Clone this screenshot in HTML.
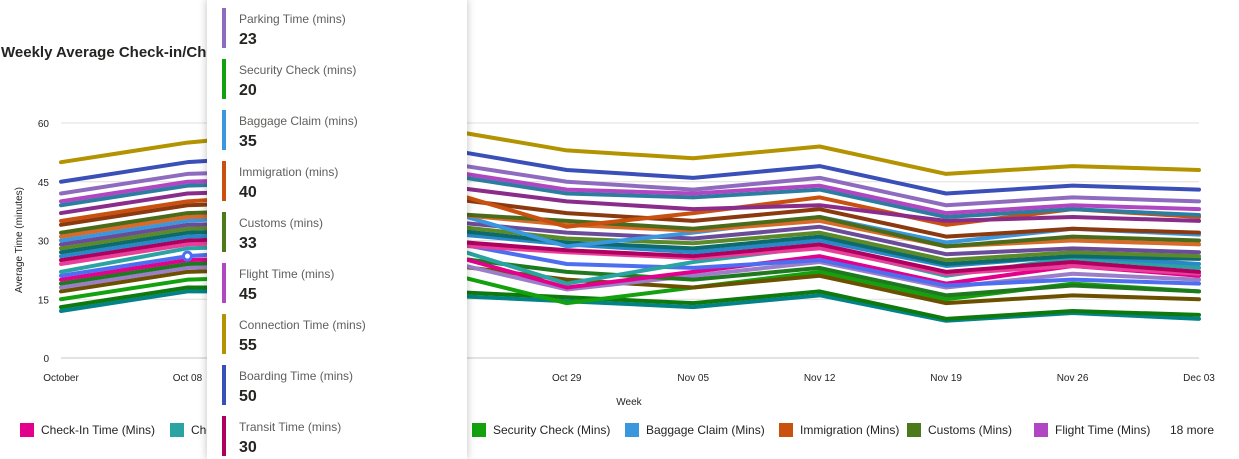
<!DOCTYPE html>
<html><head><meta charset="utf-8"><style>
body{margin:0;width:1239px;height:445px;overflow:hidden;background:#fff;font-family:"Liberation Sans",sans-serif;position:relative}
#title{position:absolute;left:1px;top:44px;font-size:15px;font-weight:bold;color:#252423}
svg{position:absolute;left:0;top:0}
#tip{position:absolute;left:207px;top:-1px;width:260px;height:460px;background:#fff;box-shadow:0 0 8px rgba(0,0,0,.25)}
.ti{position:absolute;left:15px;height:40px;padding-left:13px;border-left:4px solid}
.tl{font-size:12px;color:#605e5c;line-height:14px;margin-top:4px}
.tv{font-size:16px;font-weight:bold;color:#252423;line-height:20px;margin-top:4px}
.lg{position:absolute;top:423px;font-size:12px;color:#252423;white-space:nowrap}
.lg i{display:inline-block;width:14px;height:14px;vertical-align:-3px;margin-right:7px}
</style></head><body>
<div id="title">Weekly Average Check-in/Check-out Times</div>
<svg id="chart" width="1239" height="445"></svg>
<div class="lg" style="left:20px"><i style="background:#e3008c"></i>Check-In Time (Mins)</div>
<div class="lg" style="left:170px"><i style="background:#2aa3a3"></i>Check-Out Time (Mins)</div>
<div class="lg" style="left:472px"><i style="background:#13a10e"></i>Security Check (Mins)</div>
<div class="lg" style="left:625px"><i style="background:#3a96dd"></i>Baggage Claim (Mins)</div>
<div class="lg" style="left:779px"><i style="background:#ca5010"></i>Immigration (Mins)</div>
<div class="lg" style="left:907px"><i style="background:#4a7a1a"></i>Customs (Mins)</div>
<div class="lg" style="left:1034px"><i style="background:#b146c2"></i>Flight Time (Mins)</div>
<div class="lg" style="left:1170px">18 more</div>
<div id="tip">
<div class="ti" style="top:9px;border-color:#8e6bbf"><div class="tl">Parking Time (mins)</div><div class="tv">23</div></div>
<div class="ti" style="top:60px;border-color:#13a10e"><div class="tl">Security Check (mins)</div><div class="tv">20</div></div>
<div class="ti" style="top:111px;border-color:#3a96dd"><div class="tl">Baggage Claim (mins)</div><div class="tv">35</div></div>
<div class="ti" style="top:162px;border-color:#ca5010"><div class="tl">Immigration (mins)</div><div class="tv">40</div></div>
<div class="ti" style="top:213px;border-color:#4a7a1a"><div class="tl">Customs (mins)</div><div class="tv">33</div></div>
<div class="ti" style="top:264px;border-color:#b146c2"><div class="tl">Flight Time (mins)</div><div class="tv">45</div></div>
<div class="ti" style="top:315px;border-color:#b39300"><div class="tl">Connection Time (mins)</div><div class="tv">55</div></div>
<div class="ti" style="top:366px;border-color:#3a4fb8"><div class="tl">Boarding Time (mins)</div><div class="tv">50</div></div>
<div class="ti" style="top:417px;border-color:#b0005f"><div class="tl">Transit Time (mins)</div><div class="tv">30</div></div>
</div>
<script>
const categories=["October","Oct 08","Oct 15","Oct 22","Oct 29","Nov 05","Nov 12","Nov 19","Nov 26","Dec 03"];
const yTicks=[0,15,30,45,60];
const seriesColors=["#b39300","#3a4fb8","#8e6bbf","#b146c2","#2c7ea0","#8a2c8a","#ca5010","#8b3a0f","#4a6b1a","#d86a2a","#3a96dd","#6b4c9a","#5b8a2a","#0e6b6b","#2b88c8","#b0005f","#e8409a","#2aa3a3","#4d6ef0","#e3008c","#1f7a1f","#9a7ec8","#6b5000","#13a10e","#0e7a0e","#038387"];
const s1=[50,55,58,58.5,53,51,54,47,49,48];
const s2=[45,50,52,53.5,48,46,49,42,44,43];
const s3=[42,47,48,50,45,43,46,39,41,40];
const s4=[40,45,46,48,43,42,44,37,39,38];
const s5=[39,44,45,47,42,41,43,36,38,36.5];
const s6=[37,42,43,44,40,38,39,35,36,35];
const s7=[35,40,42,43,33.5,37,41,34,38,36];
const s8=[34,39,40,41,37,35,38,31,33,32];
const s9=[32,37,38,37,35,33,36,28.5,31,30];
const s10=[31,36,37,37,34,32.5,35,28.5,30,29];
const s11=[30,35,37,38,28.5,32,36,29.5,33,31.5];
const s12=[29,34,35,35,32,30.5,33.5,26.5,28,27];
const s13=[28,33,34,34,30.5,29.3,32,25,27,26];
const s14=[27,32,33,33,29.5,28,31,24,26,25.3];
const s15=[26,31,32,32,29,27,30,23.5,26,24];
const s16=[25,30,31,30,27.5,26,29,22,24.5,22];
const s17=[24,29,30,29,27,25.5,28,21.5,23.5,21.5];
const s18=[22,28,29,29,19,24.5,28.5,21,25.5,23];
const s19=[21,26,28,30,24,23,25,18.5,20,19];
const s20=[20,25,26,27,18,22,26,19,23.5,21];
const s21=[19,24,25,26,22,20,23,16,18.5,17];
const s22=[18,23,24,25,17.5,21,24.5,18,21.5,20];
const s23=[17,22,23,24,20,18,21,14,16,15];
const s24=[15,20,21,22,14,18,22,15,19,17];
const s25=[13,18,18,17,15.5,14,17,10,12,11];
const s26=[12,17,17,16,14.5,13,16,9.5,11.5,10];
const allSeries=[s1,s2,s3,s4,s5,s6,s7,s8,s9,s10,s11,s12,s13,s14,s15,s16,s17,s18,s19,s20,s21,s22,s23,s24,s25,s26];
const hoverIndex=1, hoverSeries=18;
const svg=document.getElementById('chart'),NS='http://www.w3.org/2000/svg';
const X0=61,X1=1199,Y0=358,Y1=123;
const xs=i=>X0+(X1-X0)*i/(categories.length-1);
const ys=v=>Y0-(Y0-Y1)*v/60;
function mk(t,a){const e=document.createElementNS(NS,t);for(const k in a)e.setAttribute(k,a[k]);svg.appendChild(e);return e;}
yTicks.forEach(v=>{
 const g=mk('line',{x1:X0,x2:X1,y1:ys(v),y2:ys(v),stroke:v?'#e1dfdd':'#c8c6c4','stroke-width':1});
 
 
 const t=mk('text',{x:49,y:ys(v)+4,'text-anchor':'end','font-size':10,fill:'#252423'});t.textContent=v;
 
 
});
categories.forEach((c,i)=>{
 const t=mk('text',{x:xs(i),y:381,'text-anchor':'middle','font-size':10,fill:'#252423'});t.textContent=c;
 
 
});
const yt=mk('text',{x:0,y:0,transform:'translate(22,240) rotate(-90)','text-anchor':'middle','font-size':10,fill:'#252423'});yt.textContent='Average Time (minutes)';


const xt=mk('text',{x:629,y:405,'text-anchor':'middle','font-size':10,fill:'#252423'});xt.textContent='Week';


for(let k=allSeries.length-1;k>=0;k--){
 const d=allSeries[k].map((v,i)=>(i?'L':'M')+xs(i)+','+ys(v)).join('');
 const p=mk('path',{d:d,fill:'none',stroke:seriesColors[k],'stroke-width':4,'stroke-linejoin':'round','stroke-linecap':'round'});
 
 
}
const hm=mk('circle',{cx:xs(hoverIndex),cy:ys(allSeries[hoverSeries][hoverIndex]),r:4,fill:'#fff',stroke:seriesColors[hoverSeries],'stroke-width':3});


</script>
</body></html>
